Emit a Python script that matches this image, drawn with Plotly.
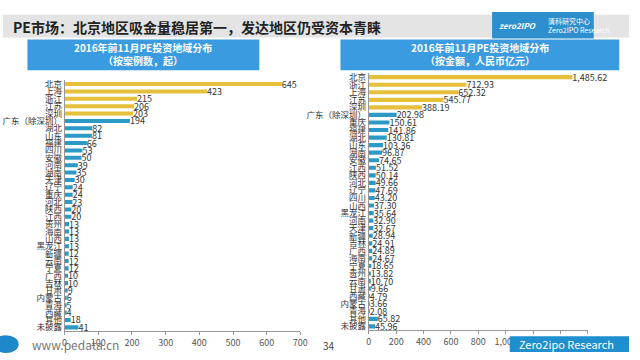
import plotly.graph_objects as go

# ---------- data ----------
left_categories = ["北京", "上海", "浙江", "江苏", "深圳", "广东（除深圳）", "湖北", "山东", "福建", "四川",
                   "安徽", "河南", "湖南", "天津", "辽宁", "重庆", "河北", "陕西", "江西", "贵州",
                   "海南", "山西", "黑龙江", "新疆", "云南", "宁夏", "广西", "吉林", "甘肃", "内蒙古",
                   "青海", "西藏", "其他", "未披露"]
left_values = [645, 423, 215, 206, 203, 194, 82, 81, 66, 53,
               50, 39, 35, 30, 24, 24, 23, 20, 20, 13,
               13, 13, 13, 12, 12, 12, 10, 10, 9, 6,
               5, 4, 18, 41]

right_categories = ["北京", "浙江", "上海", "江苏", "深圳", "广东（除深圳）", "重庆", "福建", "湖北", "山东",
                    "湖南", "安徽", "江西", "陕西", "河北", "辽宁", "四川", "山西", "黑龙江", "河南",
                    "天津", "新疆", "吉林", "广西", "海南", "宁夏", "贵州", "云南", "甘肃", "西藏",
                    "内蒙古", "青海", "其他", "未披露"]
right_values = [1485.62, 712.93, 652.32, 545.77, 388.19, 202.98, 150.61, 141.86, 130.81, 103.36,
                96.87, 74.65, 51.52, 50.14, 49.66, 47.69, 43.20, 37.30, 35.64, 32.90,
                32.67, 28.94, 24.91, 24.89, 24.67, 18.65, 13.82, 10.70, 9.66, 4.79,
                3.66, 2.08, 65.82, 45.96]

left_ticks = [0, 100, 200, 300, 400, 500, 600, 700]
right_ticks = [0, 200, 400, 600, 800, 1000, 1200, 1400, 1600]

title_text = "PE市场：北京地区吸金量稳居第一，发达地区仍受资本青睐"
left_header = "2016年前11月PE投资地域分布<br>（按案例数，起）"
right_header = "2016年前11月PE投资地域分布<br>（按金额，人民币亿元）"

YELLOW = "#E6C03A"
BLUE = "#2B9AC6"
FONT = "Noto Sans CJK SC"

W, H = 640, 360


def px(x):
    return x / W


def py(y):
    return 1 - y / H


left_colors = [YELLOW if i < 5 else BLUE for i in range(len(left_values))]
right_colors = [YELLOW if i < 5 else BLUE for i in range(len(right_values))]

fig = go.Figure()
fig.add_trace(go.Bar(
    x=left_values, y=left_categories, orientation="h",
    marker=dict(color=left_colors, line=dict(width=0)),
    text=left_values, texttemplate="%{x}", textposition="outside", constraintext="none",
    textfont=dict(size=9, color="#333333", family=FONT),
    cliponaxis=False, xaxis="x", yaxis="y", width=0.55,
))
fig.add_trace(go.Bar(
    x=right_values, y=right_categories, orientation="h",
    marker=dict(color=right_colors, line=dict(width=0)),
    text=right_values, texttemplate="%{x:,.2f}", textposition="outside", constraintext="none",
    textfont=dict(size=9, color="#333333", family=FONT),
    cliponaxis=False, xaxis="x2", yaxis="y2", width=0.55,
))

n = len(left_categories)
lsp = (328 - 82) / (n - 1)
rsp = (327 - 75) / (n - 1)

axis_common = dict(showgrid=False, zeroline=False, showline=True, linecolor="#999999",
                   ticks="outside", ticklen=3, tickcolor="#999999", tickangle=0,
                   tickfont=dict(size=9, color="#555555", family=FONT))
yaxis_common = dict(tickmode="linear", tick0=0, dtick=1, tickangle=0,
                    showgrid=False, zeroline=False, showline=True, linecolor="#999999",
                    ticks="", tickfont=dict(size=8.5, color="#333333", family=FONT))

fig.update_layout(
    width=W, height=H, margin=dict(l=0, r=0, t=0, b=0),
    paper_bgcolor="white", plot_bgcolor="rgba(0,0,0,0)",
    showlegend=False, font=dict(family=FONT),
    xaxis=dict(domain=[px(63), px(304)], range=[0, 700], tickmode="array", tickvals=left_ticks,
               anchor="y", **axis_common),
    yaxis=dict(domain=[py(328 + lsp / 2), py(82 - lsp / 2)], range=[n - 0.5, -0.5],
               anchor="x", **yaxis_common),
    xaxis2=dict(domain=[px(374), px(598)], range=[0, 1600], tickmode="array", tickvals=right_ticks,
                tickformat=",", anchor="y2", **axis_common),
    yaxis2=dict(domain=[py(327 + rsp / 2), py(75 - rsp / 2)], range=[n - 0.5, -0.5],
                anchor="x2", **yaxis_common),
    bargap=0.45,
)

shapes = []
shapes.append(dict(type="rect", xref="paper", yref="paper", x0=0, x1=1, y0=py(35), y1=py(12),
                   fillcolor="#E4E4E4", line=dict(width=0), layer="below"))
shapes.append(dict(type="rect", xref="paper", yref="paper", x0=px(500), x1=px(604), y0=py(36), y1=py(9),
                   fillcolor="#2E8FCF", line=dict(width=0)))
for x0, x1 in [(25, 262), (345, 630)]:
    shapes.append(dict(type="rect", xref="paper", yref="paper", x0=px(x0), x1=px(x1),
                       y0=py(68), y1=py(37), fillcolor="#3A9BE0", line=dict(width=0)))
shapes.append(dict(type="circle", xref="paper", yref="paper", x0=px(-10), x1=px(16), y0=py(354), y1=py(336),
                   fillcolor="#1E88C8", line=dict(width=0)))
shapes.append(dict(type="rect", xref="paper", yref="paper", x0=px(518), x1=px(640), y0=py(353), y1=py(337),
                   fillcolor="#1F8FD0", line=dict(width=0)))
fig.update_layout(shapes=shapes)

ann = [
    dict(text="<b>" + title_text + "</b>", x=px(8), y=py(24), xanchor="left", yanchor="middle",
         font=dict(size=14, color="#222222", family=FONT)),
    dict(text="<b>" + left_header + "</b>", x=px(143), y=py(52), xanchor="center", yanchor="middle",
         font=dict(size=10, color="white", family=FONT)),
    dict(text="<b>" + right_header + "</b>", x=px(488), y=py(52), xanchor="center", yanchor="middle",
         font=dict(size=10, color="white", family=FONT)),
    dict(text="<b><i>zero2IPO</i></b>", x=px(505), y=py(23), xanchor="left", yanchor="middle",
         font=dict(size=8, color="white", family=FONT)),
    dict(text="清科研究中心<br>Zero2IPO Research", x=px(555), y=py(23), xanchor="left", yanchor="middle",
         font=dict(size=7, color="white", family=FONT), align="left"),
    dict(text="www.pedata.cn", x=px(28), y=py(345), xanchor="left", yanchor="middle",
         font=dict(size=12, color="#777777", family=FONT)),
    dict(text="34", x=px(333), y=py(346), xanchor="center", yanchor="middle",
         font=dict(size=10, color="#444444", family=FONT)),
    dict(text="Zero2ipo Research", x=px(525), y=py(345), xanchor="left", yanchor="middle",
         font=dict(size=11, color="white", family=FONT)),
]
for a in ann:
    a.update(xref="paper", yref="paper", showarrow=False)
fig.update_layout(annotations=ann)

fig.write_html("out.html", config={"displayModeBar": False},
               post_script="document.body.style.margin='0px';document.body.style.overflow='hidden';")
